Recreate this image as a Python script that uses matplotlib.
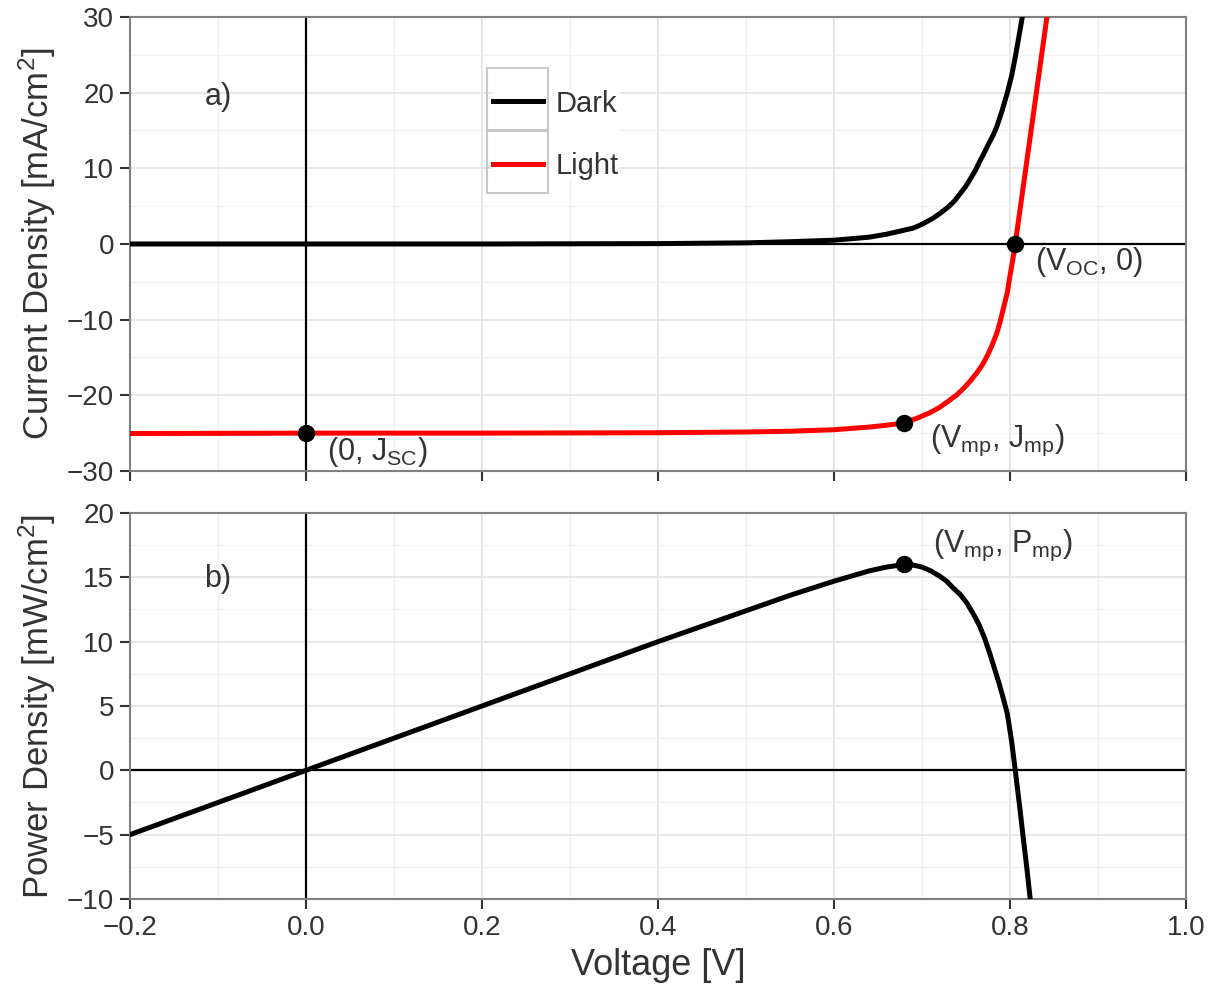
import numpy as np
import matplotlib
matplotlib.use('Agg')
import matplotlib.pyplot as plt
from matplotlib.patches import Rectangle
from matplotlib.ticker import MultipleLocator


# values
v_dark = [-0.2, 0.0, 0.2, 0.4, 0.5, 0.55, 0.6, 0.62, 0.64, 0.66, 0.675, 0.69, 0.70,
          0.7125, 0.72, 0.73, 0.737, 0.743, 0.749, 0.755, 0.761, 0.766, 0.771, 0.776,
          0.781, 0.785, 0.791, 0.797, 0.802, 0.806, 0.810, 0.814]
j_dark = [0.0, 0.0, 0.0, 0.05, 0.15, 0.3, 0.5, 0.7, 0.9, 1.3, 1.7, 2.1, 2.6,
          3.4, 4.0, 4.9, 5.7, 6.6, 7.5, 8.6, 9.8, 11.0, 12.1, 13.3,
          14.4, 15.5, 17.6, 20.0, 22.3, 24.7, 27.3, 30.0]

v_light = [-0.2, 0.0, 0.2, 0.4, 0.5, 0.55, 0.6, 0.64, 0.66, 0.68, 0.695, 0.709, 0.72,
           0.732, 0.74, 0.748, 0.755, 0.7625, 0.769, 0.775, 0.780, 0.785, 0.789, 0.793,
           0.797, 0.800, 0.803, 0.806, 0.812, 0.818, 0.824, 0.830, 0.836, 0.842]
j_light = [-25.05, -25.0, -25.0, -24.95, -24.85, -24.75, -24.55, -24.2, -23.95, -23.65, -23.0, -22.3, -21.6,
           -20.6, -19.9, -19.0, -18.1, -17.0, -15.9, -14.6, -13.3, -11.8, -10.2, -8.3,
           -6.4, -4.2, -2.2, 0.0, 5.0, 10.0, 15.0, 20.0, 25.0, 30.0]

v_power = [-0.2, 0.0, 0.2, 0.4, 0.5, 0.55, 0.6, 0.62, 0.64, 0.66, 0.68, 0.69, 0.70,
           0.71, 0.72, 0.728, 0.735, 0.743, 0.751, 0.758, 0.765, 0.771, 0.777, 0.782,
           0.787, 0.792, 0.797, 0.802, 0.806, 0.811, 0.815, 0.819, 0.8235]
p_power = [-5.0, 0.0, 5.0, 10.0, 12.4, 13.6, 14.7, 15.1, 15.5, 15.8, 16.0, 15.95, 15.8,
           15.5, 15.1, 14.7, 14.2, 13.7, 13.0, 12.2, 11.3, 10.3, 9.1, 8.0,
           6.9, 5.7, 4.4, 2.2, 0.0, -2.8, -5.2, -7.5, -10.3]

# special points
pts_top_v = [0.0, 0.68, 0.806]
pts_top_j = [-25.0, -23.65, 0.0]
pt_bot_v = [0.68]
pt_bot_p = [16.0]

plt.rcParams['font.family'] = 'Liberation Sans'
plt.rcParams['mathtext.fontset'] = 'custom'
plt.rcParams['mathtext.rm'] = 'Liberation Sans'
plt.rcParams['mathtext.it'] = 'Liberation Sans'
plt.rcParams['mathtext.default'] = 'regular'

fig = plt.figure(figsize=(12.17, 9.89), dpi=100)
ax1 = fig.add_axes([0.1068, 0.5238, 0.8677, 0.4590])
ax2 = fig.add_axes([0.1068, 0.0910, 0.8677, 0.3903])

frame_col = '#808080'
txt_col = '#333333'
lab_size = 25
ann_size = 22

for ax in (ax1, ax2):
    ax.set_xlim(-0.2, 1.0)
    ax.xaxis.set_major_locator(MultipleLocator(0.2))
    ax.xaxis.set_minor_locator(MultipleLocator(0.1))
    ax.grid(which='major', color='#e3e3e3', lw=1.2, zorder=0)
    ax.grid(which='minor', color='#f1f1f1', lw=1.0, zorder=0)
    ax.set_axisbelow(True)
    for s in ax.spines.values():
        s.set_color(frame_col)
        s.set_linewidth(1.5)
    ax.tick_params(which='major', direction='out', length=7.5, width=1.5,
                   color=txt_col, labelsize=20, labelcolor=txt_col, pad=4)
    ax.tick_params(which='minor', length=0)
    ax.axhline(0, color='black', lw=1.6, zorder=2)
    ax.axvline(0, color='black', lw=1.6, zorder=2)

# a) current density
ax1.set_ylim(-30, 30)
ax1.yaxis.set_major_locator(MultipleLocator(10))
ax1.yaxis.set_minor_locator(MultipleLocator(5))
ax1.tick_params(axis='x', labelbottom=False)
ax1.plot(v_dark, j_dark, color='black', lw=3.6, label='Dark', zorder=3)
ax1.plot(v_light, j_light, color='#ff0000', lw=3.6, label='Light', zorder=3)
ax1.plot(pts_top_v, pts_top_j, 'o', color='black', ms=11.5, zorder=4)
ax1.set_ylabel('Current Density [mA/cm$^2$]', fontsize=lab_size, color=txt_col)
ax1.yaxis.set_label_coords(-0.068, 0.5)
ax1.text(-0.1, 19.4, 'a)', fontsize=ann_size, color=txt_col, ha='center', va='center')
ax1.text(0.024, -27.5, '(0, J$_{SC}$)', fontsize=ann_size, color=txt_col, ha='left', va='center')
ax1.text(0.828, -2.4, '(V$_{OC}$, 0)', fontsize=ann_size, color=txt_col, ha='left', va='center')
ax1.text(0.709, -26.0, '(V$_{mp}$, J$_{mp}$)', fontsize=ann_size, color=txt_col, ha='left', va='center')

leg_fs = 21
leg = ax1.legend(loc='center left', bbox_to_anchor=(0.3437, 0.7404), frameon=True,
                 fontsize=leg_fs, borderpad=0.0, handlelength=1.71,
                 handletextpad=0.45, labelspacing=1.19, borderaxespad=0.0, fancybox=False)
leg.get_frame().set_facecolor('white')
leg.get_frame().set_edgecolor('none')
leg.get_frame().set_alpha(1.0)
for t in leg.get_texts():
    t.set_color(txt_col)
for y0 in (0.751, 0.6123):
    ax1.add_patch(Rectangle((0.338, y0), 0.058, 0.1367, transform=ax1.transAxes,
                            fill=False, edgecolor='#c8c8c8', lw=1.5, zorder=6, clip_on=False))

# b) power density
ax2.set_ylim(-10, 20)
ax2.yaxis.set_major_locator(MultipleLocator(5))
ax2.yaxis.set_minor_locator(MultipleLocator(2.5))
ax2.plot(v_power, p_power, color='black', lw=3.6, zorder=3)
ax2.plot(pt_bot_v, pt_bot_p, 'o', color='black', ms=11.5, zorder=4)
ax2.set_ylabel('Power Density [mW/cm$^2$]', fontsize=lab_size, color=txt_col)
ax2.yaxis.set_label_coords(-0.068, 0.5)
ax2.set_xlabel('Voltage [V]', fontsize=lab_size + 1, color=txt_col)
ax2.xaxis.set_label_coords(0.5, -0.128)
ax2.text(-0.1, 14.9, 'b)', fontsize=ann_size, color=txt_col, ha='center', va='center')
ax2.text(0.7125, 17.5, '(V$_{mp}$, P$_{mp}$)', fontsize=ann_size, color=txt_col, ha='left', va='center')

fig.savefig('out.png', dpi=100)
